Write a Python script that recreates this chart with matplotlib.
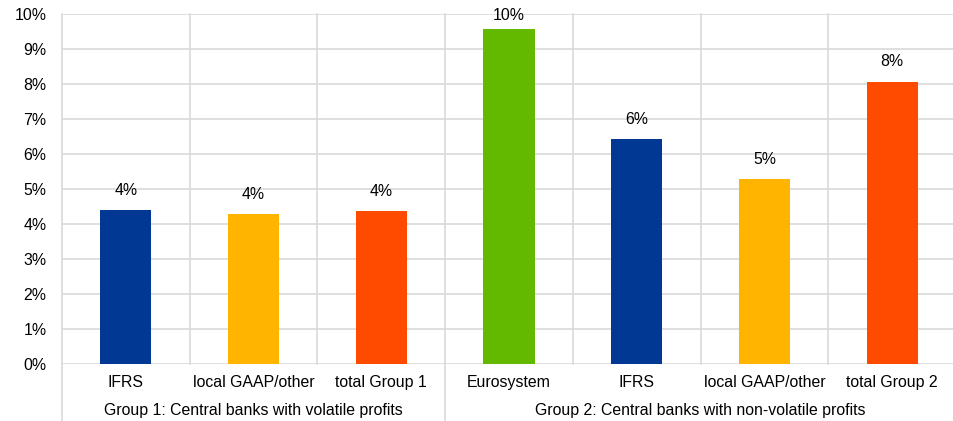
import matplotlib
matplotlib.use("Agg")
import matplotlib.pyplot as plt
from matplotlib.ticker import FuncFormatter

plt.rcParams['font.family'] = ['Liberation Sans', 'DejaVu Sans']

categories = ["IFRS", "local GAAP/other", "total Group 1",
              "Eurosystem", "IFRS", "local GAAP/other", "total Group 2"]
values = [4.40, 4.29, 4.37, 9.57, 6.42, 5.29, 8.07]
labels = ["4%", "4%", "4%", "10%", "6%", "5%", "8%"]
colors = ["#003893", "#FFB400", "#FF4B00", "#63B800", "#003893", "#FFB400", "#FF4B00"]
groups = ["Group 1: Central banks with volatile profits",
          "Group 2: Central banks with non-volatile profits"]
group_sizes = [3, 4]

FS = 11.4
fig = plt.figure(figsize=(9.54, 4.21), dpi=100)
ax = fig.add_axes([62/954, 1-364/421, (956-62)/954, (364-14)/421])

grid_c = "#D9D9D9"
x = list(range(len(categories)))
ax.bar(x, values, width=0.4, color=colors, zorder=3)
ax.set_xlim(-0.5, len(categories) - 0.5)
ax.set_ylim(0, 10)
ax.set_yticks(range(0, 11))
ax.yaxis.set_major_formatter(FuncFormatter(lambda v, p: f"{int(v)}%"))
ax.tick_params(axis='y', length=0, labelsize=FS, colors="#000000", pad=11)
ax.set_xticks([])
for s in ax.spines.values():
    s.set_visible(False)

for yv in range(0, 11):
    ax.axhline(yv, color=grid_c, lw=1.2, zorder=1)

trans = ax.get_xaxis_transform()
bounds = [i - 0.5 for i in range(len(categories) + 1)]
group_edges = [-0.5, -0.5 + group_sizes[0], -0.5 + sum(group_sizes)]
for b in bounds:
    if b in group_edges:
        ax.plot([b, b], [-0.17, 1], color=grid_c, lw=1.2, transform=trans, clip_on=False, zorder=1)
    else:
        ax.plot([b, b], [0, 1], color=grid_c, lw=1.2, transform=trans, clip_on=False, zorder=1)

for xi, c in zip(x, categories):
    ax.text(xi, -0.054, c, transform=trans, ha='center', va='center', fontsize=FS, color="#000000")

start = -0.5
for g, n in zip(groups, group_sizes):
    mid = start + n / 2
    ax.text(mid, -0.134, g, transform=trans, ha='center', va='center', fontsize=FS, color="#000000")
    start += n

for xi, v, lab in zip(x, values, labels):
    ty = min(v + 0.56, 9.95)
    ax.text(xi, ty, lab, ha='center', va='center', fontsize=FS, color="#000000", zorder=4)

fig.savefig("out.png", dpi=100)
